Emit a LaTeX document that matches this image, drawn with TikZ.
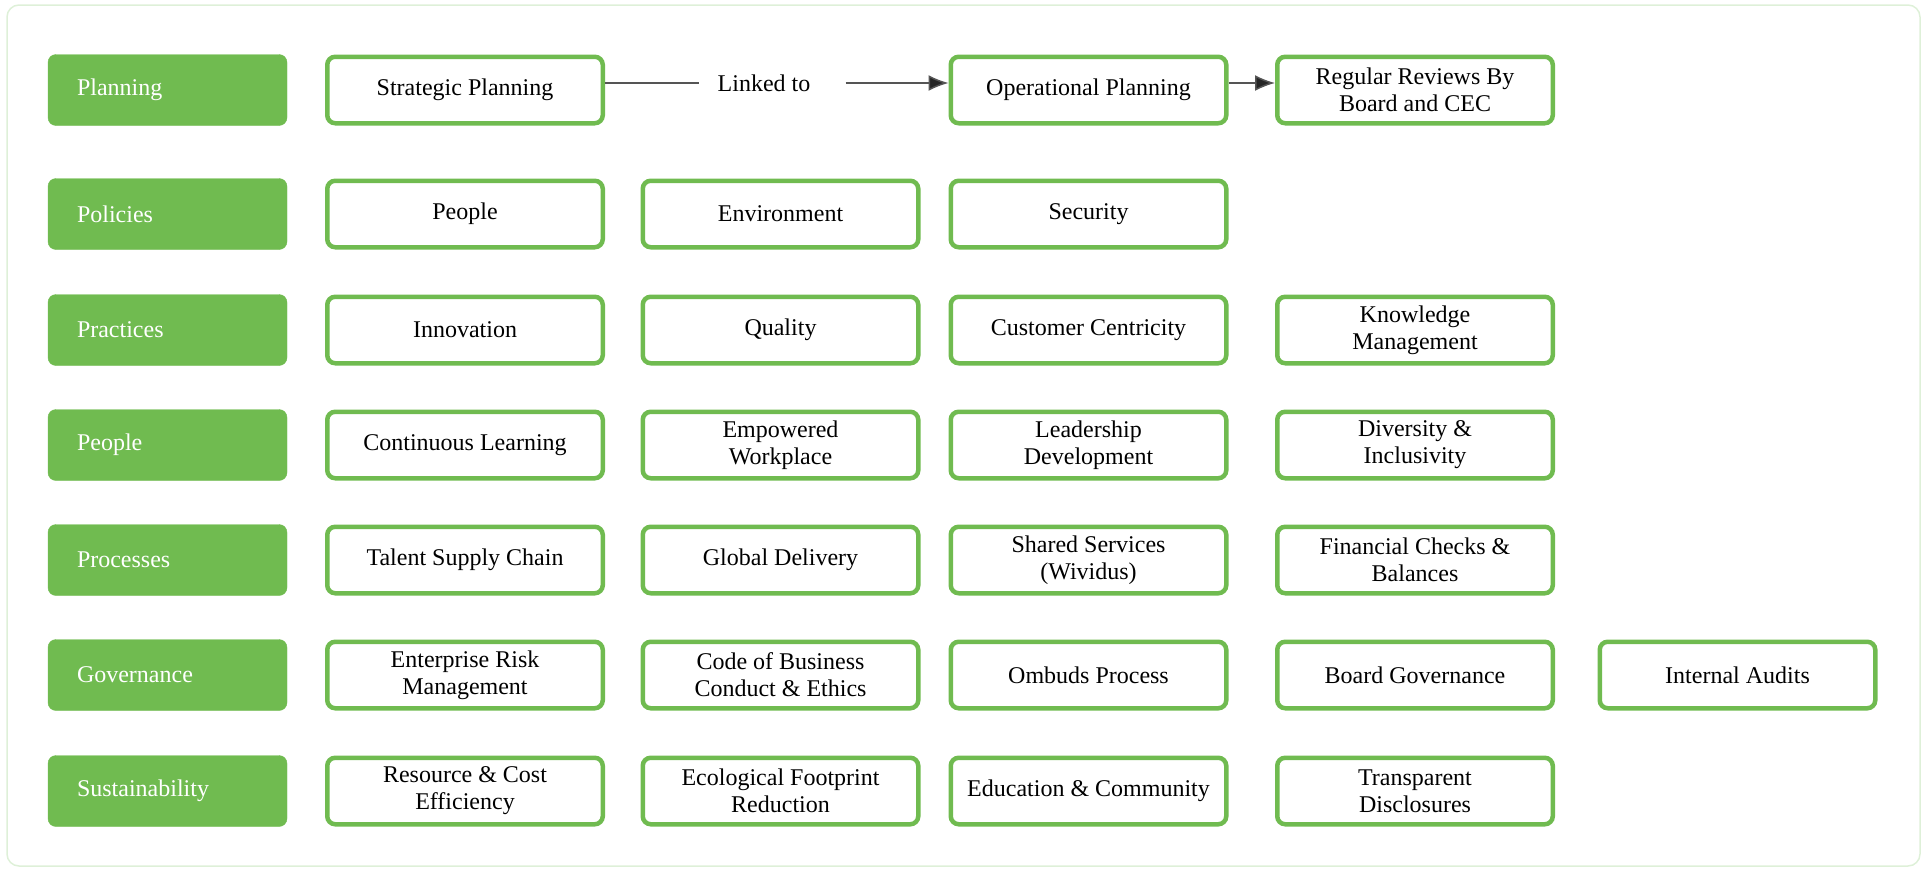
\documentclass[tikz,border=0pt]{standalone}
\usepackage{fontspec}
\setmainfont{Liberation Serif}
\usetikzlibrary{arrows.meta,positioning}

\definecolor{leaf}{RGB}{112,187,80}
\definecolor{frameline}{RGB}{222,240,216}
\definecolor{linkgray}{RGB}{85,85,85}

\tikzset{
  labelbox/.style={fill=leaf, draw=leaf, rounded corners=8pt, text=white,
    font=\fontsize{24}{27}\selectfont, text width=181pt, inner xsep=29pt,
    align=left, minimum height=71pt},
  itembox/.style={draw=leaf, line width=4.5pt, rounded corners=8pt, fill=white,
    font=\fontsize{24}{27}\selectfont, align=center,
    minimum width=275.5pt, minimum height=66.5pt, inner sep=2pt},
  linkline/.style={draw=linkgray, line width=1.5pt},
  linkarrow/.style={linkline, -{Latex[length=20pt,width=16pt,fill=black!85]}}
}

\begin{document}
\begin{tikzpicture}[x=1pt, y=-1pt]

\def\cola{465}
\def\colb{780.5}
\def\colc{1088.5}
\def\cold{1415}
\def\cole{1737.5}

\useasboundingbox (0,0) rectangle (1923,870);
\draw[frameline, line width=1.5pt, rounded corners=12pt] (7,5) rectangle (1920,866);

% row headings
\foreach \name/\yy in {Planning/90, Policies/214, Practices/330, People/445,
  Processes/560, Governance/675, Sustainability/791}
  \node[labelbox] (lab\name) at (167.5,\yy) {\name};

% planning
\node[itembox] (strat) at (\cola,90) {Strategic Planning};
\node[font=\fontsize{24}{27}\selectfont, inner xsep=18pt] (link) at (764,83) {Linked to};
\node[itembox] (oper) at (\colc,90) {Operational Planning};
\node[itembox] (review) at (\cold,90) {Regular Reviews By\\Board and CEC};

\draw[linkline] ([yshift=7pt]strat.east) -- (link.west);
\draw[linkarrow] ([xshift=17pt]link.east) -- ([yshift=7pt]oper.west);
\draw[linkarrow] ([yshift=7pt]oper.east) -- ([yshift=7pt]review.west);

% policies
\node[itembox] (polpeople) at (\cola,214) {People};
\node[itembox] (polenv) at (\colb,214) {Environment};
\node[itembox] (polsec) at (\colc,214) {Security};

% practices
\node[itembox] (prinno) at (\cola,330) {Innovation};
\node[itembox] (prqual) at (\colb,330) {Quality};
\node[itembox] (prcust) at (\colc,330) {Customer Centricity};
\node[itembox] (prknow) at (\cold,330) {Knowledge\\Management};

% people
\node[itembox] (pplearn) at (\cola,445) {Continuous Learning};
\node[itembox] (ppwork) at (\colb,445) {Empowered\\Workplace};
\node[itembox] (pplead) at (\colc,445) {Leadership\\Development};
\node[itembox] (ppdiv) at (\cold,445) {Diversity \&\\Inclusivity};

% processes
\node[itembox] (prctal) at (\cola,560) {Talent Supply Chain};
\node[itembox] (prcglob) at (\colb,560) {Global Delivery};
\node[itembox] (prcshar) at (\colc,560) {Shared Services\\(Wividus)};
\node[itembox] (prcfin) at (\cold,560) {Financial Checks \&\\Balances};

% governance
\node[itembox] (govrisk) at (\cola,675) {Enterprise Risk\\Management};
\node[itembox] (govcode) at (\colb,675) {Code of Business\\Conduct \& Ethics};
\node[itembox] (govomb) at (\colc,675) {Ombuds Process};
\node[itembox] (govboard) at (\cold,675) {Board Governance};
\node[itembox] (govaudit) at (\cole,675) {Internal Audits};

% sustainability
\node[itembox] (susres) at (\cola,791) {Resource \& Cost\\Efficiency};
\node[itembox] (suseco) at (\colb,791) {Ecological Footprint\\Reduction};
\node[itembox] (susedu) at (\colc,791) {Education \& Community};
\node[itembox] (sustrans) at (\cold,791) {Transparent\\Disclosures};

\end{tikzpicture}
\end{document}
